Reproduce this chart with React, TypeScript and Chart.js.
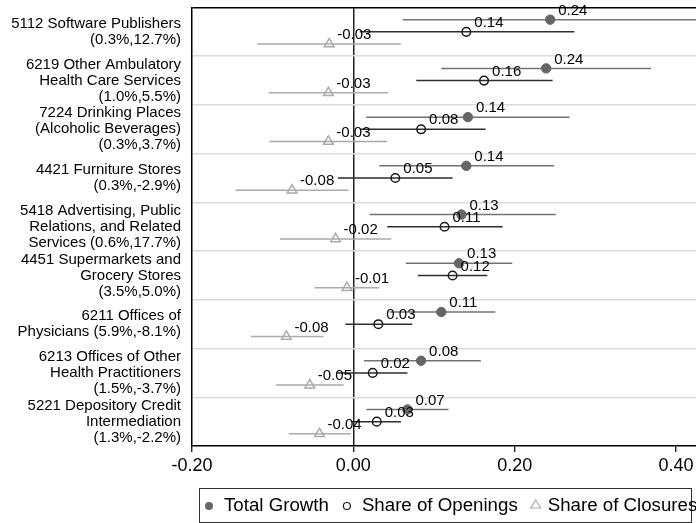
import React, { useEffect, useRef } from "react";
import { Chart, registerables } from "chart.js";

Chart.register(...registerables);

const categories: string[][] = [
  ["5112 Software Publishers", "(0.3%,12.7%)"],
  ["6219 Other Ambulatory", "Health Care Services", "(1.0%,5.5%)"],
  ["7224 Drinking Places", "(Alcoholic Beverages)", "(0.3%,3.7%)"],
  ["4421 Furniture Stores", "(0.3%,-2.9%)"],
  ["5418 Advertising, Public", "Relations, and Related", "Services (0.6%,17.7%)"],
  ["4451 Supermarkets and", "Grocery Stores", "(3.5%,5.0%)"],
  ["6211 Offices of", "Physicians (5.9%,-8.1%)"],
  ["6213 Offices of Other", "Health Practitioners", "(1.5%,-3.7%)"],
  ["5221 Depository Credit", "Intermediation", "(1.3%,-2.2%)"],
];

const seriesNames = ["Total Growth", "Share of Openings", "Share of Closures"];

const growth = [0.244, 0.239, 0.142, 0.14, 0.134, 0.131, 0.109, 0.084, 0.067];
const growthLo = [0.061, 0.109, 0.016, 0.032, 0.02, 0.065, 0.045, 0.013, 0.016];
const growthHi = [0.46, 0.369, 0.268, 0.249, 0.251, 0.197, 0.176, 0.158, 0.118];

const openings = [0.14, 0.162, 0.084, 0.052, 0.113, 0.123, 0.031, 0.024, 0.029];
const openingsLo = [0.008, 0.078, 0.009, -0.019, 0.042, 0.08, -0.01, -0.02, -0.002];
const openingsHi = [0.274, 0.247, 0.164, 0.123, 0.185, 0.166, 0.073, 0.067, 0.059];

const closures = [-0.03, -0.031, -0.031, -0.076, -0.022, -0.008, -0.083, -0.054, -0.042];
const closuresLo = [-0.119, -0.105, -0.104, -0.146, -0.091, -0.048, -0.127, -0.096, -0.08];
const closuresHi = [0.059, 0.043, 0.042, -0.006, 0.047, 0.032, -0.037, -0.012, -0.003];

const xTicks = [-0.2, 0, 0.2, 0.4];

const X_MIN = -0.2;
const X_MAX = 0.452;
const CANVAS_W = 718;
const CANVAS_H = 523;
const FONT = "Arial, 'Liberation Sans', Helvetica, sans-serif";

const COL_GROWTH = "#666666";
const COL_GROWTH_LINE = "#737373";
const COL_OPEN = "#1a1a1a";
const COL_OPEN_LINE = "#2e2e2e";
const COL_CLOSE = "#ababab";

const rowPos = (i: number, r: number) => 4 * i + 1 + r;

const pointData = (vals: number[], r: number) =>
  vals.map((v, i) => ({ x: v, y: rowPos(i, r) }));

const ciData = (lo: number[], hi: number[], r: number) =>
  lo.flatMap((l, i) => [
    { x: l, y: rowPos(i, r) },
    { x: hi[i], y: rowPos(i, r) },
    { x: hi[i], y: null as any },
  ]);

const valueLabels = {
  id: "valueLabels",
  afterDatasetsDraw(chart: any) {
    const ctx = chart.ctx;
    ctx.save();
    ctx.font = `15px ${FONT}`;
    ctx.fillStyle = "#000";
    ctx.textAlign = "left";
    ctx.textBaseline = "middle";
    for (let d = 0; d < 3; d++) {
      const meta = chart.getDatasetMeta(d);
      const ds = chart.data.datasets[d];
      meta.data.forEach((el: any, j: number) => {
        const v = (ds.data[j] as any).x as number;
        ctx.fillText(v.toFixed(2), el.x + 8, el.y - 9);
      });
    }
    ctx.restore();
  },
};

const customLegend = {
  id: "customLegend",
  afterDraw(chart: any) {
    const ctx = chart.ctx;
    ctx.save();
    ctx.strokeStyle = "#333";
    ctx.lineWidth = 1;
    ctx.strokeRect(199.5, 488.5, 492, 34);
    ctx.font = `18.7px ${FONT}`;
    ctx.textBaseline = "middle";
    ctx.textAlign = "left";
    const cy = 506;
    let x = 209;
    seriesNames.forEach((name, k) => {
      ctx.beginPath();
      if (k === 0) {
        ctx.fillStyle = COL_GROWTH;
        ctx.arc(x, cy, 4, 0, Math.PI * 2);
        ctx.fill();
      } else if (k === 1) {
        ctx.strokeStyle = COL_OPEN;
        ctx.lineWidth = 1.2;
        ctx.arc(x, cy, 3.5, 0, Math.PI * 2);
        ctx.stroke();
      } else {
        ctx.strokeStyle = COL_CLOSE;
        ctx.lineWidth = 1.2;
        ctx.moveTo(x, cy - 6);
        ctx.lineTo(x + 5, cy + 2);
        ctx.lineTo(x - 5, cy + 2);
        ctx.closePath();
        ctx.stroke();
      }
      ctx.fillStyle = "#000";
      const tx = x + (k === 2 ? 12 : 15);
      ctx.fillText(name, tx, cy);
      x = tx + ctx.measureText(name).width + 18;
    });
    ctx.restore();
  },
};

export default function App() {
  const ref = useRef<HTMLCanvasElement>(null);

  useEffect(() => {
    if (!ref.current) return;
    const lineDs = (data: any[], color: string) => ({
      type: "scatter" as const,
      data,
      showLine: true,
      spanGaps: false,
      borderColor: color,
      borderWidth: 1.5,
      pointRadius: 0,
      pointHoverRadius: 0,
    });
    const chart = new Chart(ref.current, {
      type: "scatter",
      data: {
        datasets: [
          {
            label: seriesNames[0],
            data: pointData(growth, 0),
            pointStyle: "circle",
            pointRadius: 4.7,
            backgroundColor: COL_GROWTH,
            borderColor: COL_GROWTH,
            borderWidth: 1,
          },
          {
            label: seriesNames[1],
            data: pointData(openings, 1),
            pointStyle: "circle",
            pointRadius: 4.3,
            backgroundColor: "rgba(0,0,0,0)",
            borderColor: COL_OPEN,
            borderWidth: 1.5,
          },
          {
            label: seriesNames[2],
            data: pointData(closures, 2),
            pointStyle: "triangle",
            pointRadius: 5.6,
            backgroundColor: "rgba(0,0,0,0)",
            borderColor: COL_CLOSE,
            borderWidth: 1.5,
          },
          lineDs(ciData(growthLo, growthHi, 0), COL_GROWTH_LINE),
          lineDs(ciData(openingsLo, openingsHi, 1), COL_OPEN_LINE),
          lineDs(ciData(closuresLo, closuresHi, 2), COL_CLOSE),
        ] as any,
      },
      options: {
        animation: false,
        responsive: false,
        events: [],
        layout: { autoPadding: false, padding: { top: 7.5, left: 0, right: 0, bottom: 0 } },
        plugins: {
          legend: { display: false },
          tooltip: { enabled: false },
        },
        scales: {
          x: {
            type: "linear",
            min: X_MIN,
            max: X_MAX,
            afterBuildTicks: (scale: any) => {
              scale.ticks = xTicks.map((v) => ({ value: v }));
            },
            afterFit: (scale: any) => {
              scale.height = 77;
              scale.paddingLeft = 0;
              scale.paddingRight = 0;
            },
            ticks: {
              callback: (v: any) => Number(v).toFixed(2),
              font: { family: FONT, size: 18 },
              color: "#000",
              padding: 3,
              maxRotation: 0,
              autoSkip: false,
            },
            grid: {
              color: (c: any) => (c.tick && c.tick.value === 0 ? "#222" : "rgba(0,0,0,0)"),
              lineWidth: 1.5,
              drawTicks: true,
              tickLength: 6,
              tickColor: "#000",
              tickWidth: 1.2,
            },
            border: { display: true, color: "#000", width: 1.5 },
          },
          y: {
            type: "linear",
            min: 0,
            max: 36,
            reverse: true,
            afterBuildTicks: (scale: any) => {
              scale.ticks = Array.from({ length: 19 }, (_, k) => ({ value: 2 * k }));
            },
            afterFit: (scale: any) => {
              scale.width = 192;
              scale.paddingTop = 0;
              scale.paddingBottom = 0;
            },
            ticks: {
              autoSkip: false,
              callback: (v: any) => {
                const n = Number(v);
                if (n % 4 === 2) return categories[(n - 2) / 4];
                return "";
              },
              font: { family: FONT, size: 15, lineHeight: "16px" },
              color: "#000",
              padding: 11,
            },
            grid: {
              color: (c: any) => {
                const v = c.tick ? c.tick.value : -1;
                if (v === 0) return "#000";
                if (v % 4 === 0 && v !== 36) return "#dcdcdc";
                return "rgba(0,0,0,0)";
              },
              lineWidth: 1.5,
              drawTicks: false,
            },
            border: { display: true, color: "#000", width: 1.5 },
          },
        },
      },
      plugins: [valueLabels, customLegend],
    });
    return () => chart.destroy();
  }, []);

  return (
    <div
      style={{
        position: "absolute",
        left: 0,
        top: 0,
        width: 696,
        height: 523,
        overflow: "hidden",
        background: "#fff",
      }}
    >
      <canvas
        ref={ref}
        width={CANVAS_W}
        height={CANVAS_H}
        style={{ display: "block", width: CANVAS_W, height: CANVAS_H }}
      />
    </div>
  );
}
